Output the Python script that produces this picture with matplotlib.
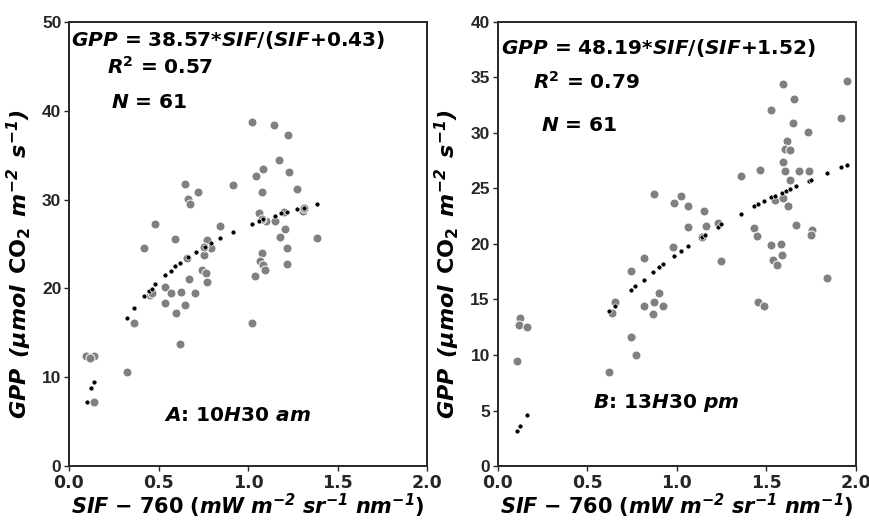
import matplotlib
matplotlib.use("Agg")
import matplotlib.pyplot as plt

plt.rcParams["mathtext.fontset"] = "dejavusans"

# panel A: 10H30 am
sif_a = [1.024, 1.143, 1.222, 1.175, 1.086, 1.047, 1.231, 1.272, 0.918, 1.080,
         0.646, 0.722, 0.665, 0.676, 0.479, 1.061, 1.099, 1.149, 1.309, 0.845,
         1.205, 1.177, 1.385, 0.417, 0.594, 0.769, 0.793, 0.756, 1.218, 1.078,
         1.067, 1.082, 1.095, 1.218, 1.041, 0.745, 0.764, 0.773, 0.670, 0.534,
         0.570, 0.626, 0.706, 0.451, 0.464, 0.534, 0.648, 0.598, 0.365, 1.024,
         0.620, 0.097, 0.138, 0.120, 0.326, 0.138, 0.660, 0.756, 1.201, 1.080,
         1.310]
gpp_a = [38.7, 38.4, 37.3, 34.5, 33.4, 32.7, 33.1, 31.2, 31.6, 30.9,
         31.8, 30.8, 30.1, 29.5, 27.2, 28.5, 27.6, 27.6, 28.75, 27.0,
         26.7, 25.8, 25.7, 24.5, 25.6, 25.5, 24.5, 23.8, 24.6, 24.0,
         23.1, 22.6, 22.1, 22.7, 21.4, 22.1, 21.7, 20.75, 21.1, 20.2,
         19.5, 19.6, 19.5, 19.2, 19.5, 18.4, 18.1, 17.2, 16.1, 16.1,
         13.7, 12.4, 12.35, 12.2, 10.55, 7.25, 23.4, 24.7, 28.6, 27.8,
         29.0]
fit_sif_a = [0.099, 0.125, 0.138, 0.326, 0.365, 0.417, 0.447, 0.464, 0.480, 0.534,
             0.568, 0.594, 0.620, 0.665, 0.708, 0.758, 0.791, 0.845, 0.918, 1.024,
             1.061, 1.084, 1.149, 1.186, 1.218, 1.272, 1.311, 1.385]
fit_gpp_a = [7.25, 8.75, 9.45, 16.7, 17.8, 19.1, 19.7, 19.95, 20.5, 21.5,
             22.0, 22.5, 22.9, 23.5, 24.1, 24.7, 25.1, 25.7, 26.4, 27.3,
             27.6, 27.8, 28.2, 28.5, 28.6, 28.9, 29.1, 29.5]

# panel B: 13H30 pm
sif_b = [1.595, 1.950, 1.655, 1.528, 1.920, 1.650, 1.735, 1.616, 1.608, 1.636,
         1.593, 1.607, 1.685, 1.739, 1.469, 1.358, 1.633, 0.876, 1.027, 0.986,
         1.062, 1.155, 1.551, 1.595, 1.625, 1.668, 1.756, 1.754, 1.435, 1.452,
         1.064, 1.166, 1.232, 1.144, 0.983, 1.528, 1.582, 1.588, 1.540, 0.820,
         1.250, 1.562, 1.843, 0.747, 0.900, 0.872, 0.818, 0.924, 0.866, 1.457,
         1.491, 0.654, 0.642, 0.754, 0.745, 0.771, 0.624, 0.128, 0.118, 0.165,
         0.111]
gpp_b = [34.4, 34.65, 33.1, 32.1, 31.35, 30.9, 30.1, 29.25, 28.55, 28.5,
         27.4, 26.6, 26.6, 26.6, 26.7, 26.15, 25.8, 24.5, 24.3, 23.7,
         23.4, 23.0, 24.0, 24.1, 23.4, 21.7, 21.3, 20.8, 21.4, 20.7,
         21.5, 21.6, 21.9, 20.6, 19.7, 19.9, 20.0, 19.0, 18.6, 18.7,
         18.5, 18.1, 16.9, 17.6, 15.55, 14.8, 14.45, 14.4, 13.7, 14.8,
         14.4, 14.8, 13.75, 11.65, 11.6, 9.97, 8.47, 13.36, 12.73, 12.5,
         9.43]
fit_sif_b = [0.109, 0.128, 0.165, 0.624, 0.654, 0.747, 0.769, 0.816, 0.866, 0.900,
             0.924, 0.986, 1.027, 1.064, 1.140, 1.160, 1.232, 1.250, 1.358, 1.435,
             1.457, 1.489, 1.530, 1.551, 1.588, 1.610, 1.633, 1.668, 1.740, 1.752,
             1.843, 1.920, 1.950]
fit_gpp_b = [3.12, 3.57, 4.6, 14.0, 14.45, 15.85, 16.2, 16.8, 17.5, 17.9,
             18.2, 18.9, 19.4, 19.85, 20.65, 20.85, 21.55, 21.8, 22.7, 23.4,
             23.6, 23.85, 24.2, 24.35, 24.6, 24.8, 24.95, 25.25, 25.7, 25.8,
             26.4, 26.9, 27.1]

panels = [
    dict(x=sif_a, y=gpp_a, fx=fit_sif_a, fy=fit_gpp_a, ymax=50, ystep=10,
         eq=r"$\mathbfit{GPP}$ = 38.57*$\mathbfit{SIF}$/($\mathbfit{SIF}$+0.43)",
         r2="0.57", n="61", tag=r"$\mathbfit{A}$: 10$\mathbfit{H}$30 $\mathbfit{am}$",
         eq_pos=(0.01, 48.0), r2_pos=(0.21, 44.9), n_pos=(0.235, 40.9), tag_pos=(0.53, 5.7)),
    dict(x=sif_b, y=gpp_b, fx=fit_sif_b, fy=fit_gpp_b, ymax=40, ystep=5,
         eq=r"$\mathbfit{GPP}$ = 48.19*$\mathbfit{SIF}$/($\mathbfit{SIF}$+1.52)",
         r2="0.79", n="61", tag=r"$\mathbfit{B}$: 13$\mathbfit{H}$30 $\mathbfit{pm}$",
         eq_pos=(0.02, 37.66), r2_pos=(0.2, 34.6), n_pos=(0.245, 30.7), tag_pos=(0.534, 5.7)),
]

fig = plt.figure(figsize=(8.69, 5.2), dpi=100)
lefts = [0.0794, 0.5725]

for left, p in zip(lefts, panels):
    ax = fig.add_axes([left, 0.1038, 0.412, 0.854])
    ax.scatter(p["x"], p["y"], s=42, color="#808080", edgecolors="white", linewidths=0.7, zorder=2)
    ax.scatter(p["fx"], p["fy"], s=13, color="black", edgecolors="white", linewidths=0.5, zorder=3)
    ax.set_xlim(0, 2.0)
    ax.set_ylim(0, p["ymax"])
    ax.set_xticks([0.0, 0.5, 1.0, 1.5, 2.0])
    ax.set_yticks(range(0, p["ymax"] + 1, p["ystep"]))
    for lab in ax.get_xticklabels():
        lab.set_fontweight("bold")
        lab.set_fontsize(12.5)
        lab.set_color("#262626")
    for lab in ax.get_yticklabels():
        lab.set_fontweight("bold")
        lab.set_fontsize(12.5)
        lab.set_family("Liberation Sans")
        lab.set_color("#262626")
    ax.tick_params(length=3.5, width=1, colors="#262626", pad=2)
    for sp in ax.spines.values():
        sp.set_color("#262626")
        sp.set_linewidth(1.4)

    ax.set_xlabel(r"$\mathbfit{SIF}\ \mathbf{-}\ \mathbf{760\ (}\mathbfit{mW\ m^{-2}\ sr^{-1}\ nm^{-1}}\mathbf{)}$",
                  fontsize=15, labelpad=0)
    ax.set_ylabel(r"$\mathbfit{GPP\ \,(\mu mol\ \,}\mathbf{CO_2}\mathbfit{\ \,m^{-2}\ \,s^{-1})}$",
                  fontsize=16)
    ax.yaxis.set_label_coords(-0.098, 0.455)

    ax.text(*p["eq_pos"], p["eq"], fontsize=14.5, fontweight="bold", va="center", ha="left")
    ax.text(*p["r2_pos"], r"$\mathbfit{R}^\mathbf{2}$ = " + p["r2"], fontsize=14.5,
            fontweight="bold", va="center", ha="left")
    ax.text(*p["n_pos"], r"$\mathbfit{N}$ = " + p["n"], fontsize=14.5,
            fontweight="bold", va="center", ha="left")
    ax.text(*p["tag_pos"], p["tag"], fontsize=14.5, fontweight="bold", va="center", ha="left")

fig.savefig("out.png", dpi=100)
